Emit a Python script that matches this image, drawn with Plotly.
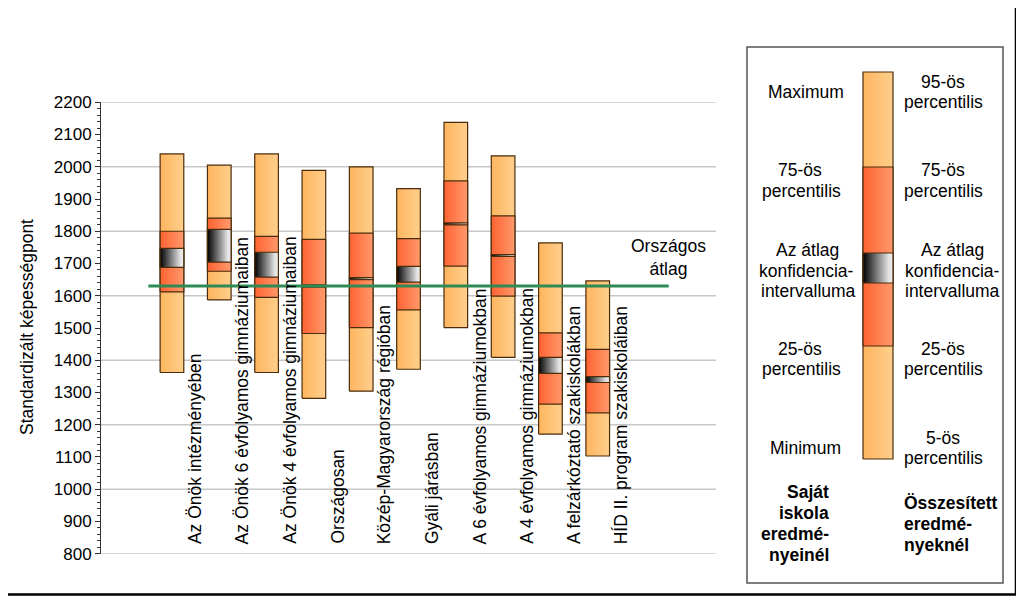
import plotly.graph_objects as go

# ---------------- data ----------------
categories = [
    "Az Önök intézményében",
    "Az Önök 6 évfolyamos gimnáziumaiban",
    "Az Önök 4 évfolyamos gimnáziumaiban",
    "Országosan",
    "Közép-Magyarország régióban",
    "Gyáli járásban",
    "A 6 évfolyamos gimnáziumokban",
    "A 4 évfolyamos gimnáziumokban",
    "A felzárkóztató szakiskolákban",
    "HÍD II. program szakiskoláiban",
]
low_vals = [1362, 1587, 1362, 1282, 1304, 1372, 1501, 1409, 1171, 1103]   # minimum / 5th pct
q25_vals = [1612, 1676, 1595, 1483, 1501, 1556, 1692, 1599, 1264, 1237]
ci_low_vals = [1688, 1704, 1658, 1627, 1650, 1642, 1820, 1722, 1359, 1331]
ci_high_vals = [1747, 1806, 1735, 1634, 1656, 1691, 1826, 1728, 1409, 1349]
q75_vals = [1800, 1841, 1784, 1775, 1794, 1777, 1956, 1848, 1485, 1434]
high_vals = [2040, 2005, 2040, 1989, 2000, 1932, 2138, 2034, 1764, 1646]  # maximum / 95th pct
national_avg = 1630
national_label = "Országos<br>átlag"
y_title = "Standardizált képességpont"

# ---------------- style ----------------
OFF = 8                      # page body margin: figure is drawn starting at (8, 8)
W, H = 1024 - OFF, 597 - OFF


def px(x):
    return x - OFF


def py(y):
    return y - OFF


PLOT_L, PLOT_R, PLOT_T, PLOT_B = px(101), px(716), py(102.3), py(553.7)
FONT = "Liberation Sans, Arial, sans-serif"
EDGE = "#4A2C0A"
LIGHT = [[0, "#FDB55F"], [1, "#FFCF8C"]]
DARK = [[0, "#FF6232"], [1, "#FF9A6C"]]
CI = [[0, "#000000"], [0.85, "#E2E2E2"], [1, "#EEEEEE"]]
GREEN = "#2F8A55"
BAR_HALF = 0.25
FS_TICK = 17
FS_CAT = 17.5
FS_LEG = 17.5

fig = go.Figure()


def rect(x0, x1, y0, y1, scale, xa="x", ya="y"):
    fig.add_trace(go.Scatter(
        x=[x0, x1, x1, x0, x0], y=[y0, y0, y1, y1, y0],
        mode="lines", fill="toself",
        fillgradient=dict(type="horizontal", colorscale=scale),
        line=dict(color=EDGE, width=1.2),
        hoverinfo="skip", showlegend=False, xaxis=xa, yaxis=ya,
    ))


for k in range(len(categories)):
    c = k + 1.5
    rect(c - BAR_HALF, c + BAR_HALF, low_vals[k], high_vals[k], LIGHT)
    rect(c - BAR_HALF, c + BAR_HALF, q25_vals[k], q75_vals[k], DARK)
    rect(c - BAR_HALF, c + BAR_HALF, ci_low_vals[k], ci_high_vals[k], CI)

# national average line
fig.add_trace(go.Scatter(
    x=[1, 12], y=[national_avg, national_avg], mode="lines",
    line=dict(color=GREEN, width=3), hoverinfo="skip", showlegend=False,
))

annotations = []
for k, name in enumerate(categories):
    annotations.append(dict(
        x=k + 2.0, y=824, xref="x", yref="y", text=name, textangle=-90,
        showarrow=False, xanchor="center", yanchor="bottom",
        font=dict(size=FS_CAT, color="black", family=FONT),
    ))
annotations.append(dict(
    x=12, y=1720, xref="x", yref="y", text=national_label, showarrow=False,
    xanchor="center", yanchor="middle", font=dict(size=FS_CAT, color="black", family=FONT),
))
# y-axis title (pixel overlay coords)
annotations.append(dict(
    x=px(27), y=py(327), xref="x2", yref="y2", text=y_title, textangle=-90, showarrow=False,
    font=dict(size=FS_LEG, color="black", family=FONT),
))

shapes = []
for g in range(800, 2201, 200):
    shapes.append(dict(type="line", xref="x", yref="y", x0=0, x1=13, y0=g, y1=g,
                       line=dict(color="#C8C8C8", width=1.5), layer="below"))

# ---------------- legend panel (pixel coordinates) ----------------
shapes.append(dict(type="rect", xref="x2", yref="y2", x0=px(747), x1=px(1003), y0=py(47), y1=py(583),
                   line=dict(color="#555555", width=1.5)))
# outer frame (paper coordinates, left/top edges fall outside the figure)
shapes.append(dict(type="rect", xref="paper", yref="paper",
                   x0=-0.05, x1=px(1016) / W, y0=1 - py(594.5) / H, y1=1.05,
                   line=dict(color="#000000", width=2.5)))

LB_X0, LB_X1 = px(863), px(893)
lb = dict(top=py(72), p75=py(167), cit=py(253), cib=py(283), p25=py(346), bot=py(459))
rect(LB_X0, LB_X1, lb["bot"], lb["top"], LIGHT, "x2", "y2")
rect(LB_X0, LB_X1, lb["p25"], lb["p75"], DARK, "x2", "y2")
rect(LB_X0, LB_X1, lb["cib"], lb["cit"], CI, "x2", "y2")

left_lines = [
    ("Maximum", 806, 92), ("75-ös", 800, 170), ("percentilis", 801, 191),
    ("Az átlag", 807, 250), ("konfidencia-", 806, 271), ("intervalluma", 808, 291),
    ("25-ös", 800, 349), ("percentilis", 801, 369), ("Minimum", 805, 448),
]
right_lines = [
    ("95-ös", 943, 82), ("percentilis", 943, 102), ("75-ös", 943, 170), ("percentilis", 943, 191),
    ("Az átlag", 952, 250), ("konfidencia-", 952, 271), ("intervalluma", 952, 291),
    ("25-ös", 943, 349), ("percentilis", 943, 369), ("5-ös", 943, 438), ("percentilis", 943, 458),
]
for t, x, y in left_lines + right_lines:
    annotations.append(dict(x=px(x), y=py(y), xref="x2", yref="y2", text=t, showarrow=False,
                            xanchor="center", yanchor="middle",
                            font=dict(size=FS_LEG, color="black", family=FONT)))
for t, y in [("Saját", 492), ("iskola", 513), ("eredmé-", 534), ("nyeinél", 555)]:
    annotations.append(dict(x=px(831), y=py(y), xref="x2", yref="y2", text="<b>" + t + "</b>",
                            showarrow=False, xanchor="right", yanchor="middle",
                            font=dict(size=FS_LEG, color="black", family=FONT)))
for t, y in [("Összesített", 503), ("eredmé-", 524), ("nyeknél", 545)]:
    annotations.append(dict(x=px(902), y=py(y), xref="x2", yref="y2", text="<b>" + t + "</b>",
                            showarrow=False, xanchor="left", yanchor="middle",
                            font=dict(size=FS_LEG, color="black", family=FONT)))

fig.update_layout(
    template="none",
    width=W, height=H, autosize=False,
    margin=dict(l=0, r=0, t=0, b=0, pad=0, autoexpand=False),
    paper_bgcolor="white", plot_bgcolor="rgba(0,0,0,0)",
    showlegend=False,
    xaxis=dict(domain=[PLOT_L / W, PLOT_R / W], range=[0, 13], visible=False, anchor="y",
               automargin=False),
    yaxis=dict(
        domain=[(H - PLOT_B) / H, (H - PLOT_T) / H], range=[800, 2200], anchor="x",
        tick0=800, dtick=100, ticks="outside", ticklen=5, tickcolor="#333333",
        showline=True, linecolor="#333333", linewidth=1,
        showgrid=False, zeroline=False, automargin=False,
        tickfont=dict(size=FS_TICK, color="black", family=FONT),
        minor=dict(dtick=20, ticks="outside", ticklen=3, tickcolor="#333333", showgrid=False),
    ),
    xaxis2=dict(domain=[0, 1], range=[0, W], visible=False, anchor="y2", automargin=False),
    yaxis2=dict(domain=[0, 1], range=[H, 0], visible=False, anchor="x2", automargin=False),
    shapes=shapes,
    annotations=annotations,
)

fig.write_html("out.html")
